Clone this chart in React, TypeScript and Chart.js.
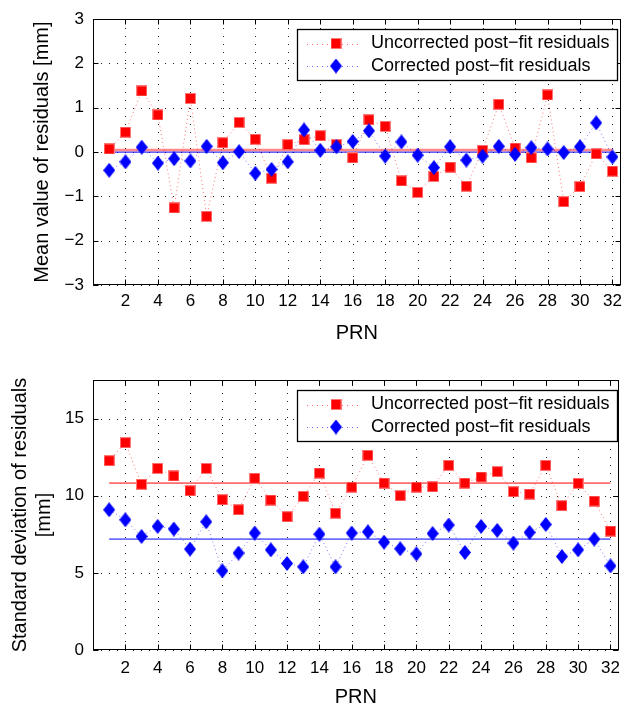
import React, { useEffect, useRef } from 'react';
import { Chart, registerables } from 'chart.js';

Chart.register(...registerables);

// ---------- data ----------
const prn = [1, 2, 3, 4, 5, 6, 7, 8, 9, 10, 11, 12, 13, 14, 15, 16, 17, 18, 19, 20, 21, 22, 23, 24, 25, 26, 27, 28, 29, 30, 31, 32];

const meanUncorrected = [0.07, 0.45, 1.38, 0.84, -1.26, 1.21, -1.45, 0.21, 0.67, 0.29, -0.59, 0.17, 0.28, 0.37, 0.17, -0.13, 0.73, 0.58, -0.65, -0.91, -0.55, -0.34, -0.77, 0.04, 1.08, 0.09, -0.13, 1.29, -1.12, -0.78, -0.04, -0.43];
const meanCorrected = [-0.41, -0.22, 0.11, -0.25, -0.15, -0.2, 0.13, -0.24, 0.01, -0.48, -0.39, -0.22, 0.5, 0.04, 0.12, 0.24, 0.48, -0.09, 0.23, -0.07, -0.35, 0.12, -0.18, -0.09, 0.13, -0.05, 0.1, 0.07, -0.01, 0.12, 0.66, -0.11];

const stdUncorrected = [12.27, 13.44, 10.74, 11.77, 11.28, 10.32, 11.77, 9.74, 9.09, 11.13, 9.72, 8.64, 9.96, 11.47, 8.87, 10.56, 12.62, 10.82, 10.0, 10.56, 10.58, 11.97, 10.82, 11.21, 11.56, 10.26, 10.11, 11.97, 9.35, 10.8, 9.65, 7.71];
const stdCorrected = [9.09, 8.44, 7.36, 8.01, 7.84, 6.54, 8.31, 5.13, 6.28, 7.58, 6.49, 5.61, 5.39, 7.51, 5.39, 7.58, 7.66, 6.99, 6.56, 6.23, 7.55, 8.1, 6.32, 8.01, 7.75, 6.93, 7.62, 8.14, 6.06, 6.49, 7.19, 5.45];

const meanLevelUncorrected = [0.05];
const meanLevelCorrected = [0.0];
const stdLevelUncorrected = [10.82];
const stdLevelCorrected = [7.19];

const xTicks = [2, 4, 6, 8, 10, 12, 14, 16, 18, 20, 22, 24, 26, 28, 30, 32];
const meanYTicks = [-3, -2, -1, 0, 1, 2, 3];
const stdYTicks = [0, 5, 10, 15];

const legendLabels = ['Uncorrected post\u2212fit residuals', 'Corrected post\u2212fit residuals'];
const xTitle = 'PRN';
const meanYTitle = 'Mean value of residuals [mm]';
const stdYTitle = ['Standard deviation of residuals', '[mm]'];

const FONT = "'Liberation Sans', Arial, Helvetica, sans-serif";

function makeSquare(): HTMLCanvasElement {
  const c = document.createElement('canvas');
  c.width = 11;
  c.height = 11;
  const g = c.getContext('2d')!;
  g.fillStyle = 'rgb(255,120,120)';
  g.fillRect(0, 0, 11, 11);
  g.fillStyle = '#ff0000';
  g.fillRect(1, 1, 9, 9);
  return c;
}

function makeDiamond(): HTMLCanvasElement {
  const c = document.createElement('canvas');
  c.width = 12;
  c.height = 15;
  const g = c.getContext('2d')!;
  g.fillStyle = '#0000ff';
  g.beginPath();
  g.moveTo(6, 0);
  g.lineTo(12, 7.5);
  g.lineTo(6, 15);
  g.lineTo(0, 7.5);
  g.closePath();
  g.fill();
  return c;
}

const toXY = (ys: number[]) => ys.map((y, i) => ({ x: prn[i], y }));
const levelLine = (v: number) => [
  { x: prn[0], y: v },
  { x: prn[prn.length - 1], y: v },
];

const fmt = (v: number) => (v < 0 ? '\u2212' + Math.abs(v) : String(v));

function framePlugin(yTicks: number[], square: HTMLCanvasElement, diamond: HTMLCanvasElement) {
  return {
    id: 'frameAndLegend',
    beforeDatasetsDraw(chart: any) {
      const { ctx, chartArea: a, scales } = chart;
      ctx.save();
      ctx.strokeStyle = '#222';
      ctx.lineWidth = 1;
      ctx.setLineDash([1, 7]);
      for (const t of xTicks) {
        const px = Math.round(scales.x.getPixelForValue(t)) + 0.5;
        ctx.beginPath();
        ctx.moveTo(px, a.bottom);
        ctx.lineTo(px, a.top);
        ctx.stroke();
      }
      for (const t of yTicks) {
        const py = Math.round(scales.y.getPixelForValue(t)) + 0.5;
        ctx.beginPath();
        ctx.moveTo(a.left, py);
        ctx.lineTo(a.right, py);
        ctx.stroke();
      }
      ctx.restore();
    },
    afterDatasetsDraw(chart: any) {
      const { ctx, chartArea: a, scales } = chart;
      ctx.save();
      ctx.setLineDash([]);
      ctx.strokeStyle = '#000';
      ctx.lineWidth = 1;
      const L = Math.round(a.left) + 0.5;
      const R = Math.round(a.right) - 0.5;
      const T = Math.round(a.top) + 0.5;
      const B = Math.round(a.bottom) - 0.5;
      ctx.strokeRect(L, T, R - L, B - T);
      // inward tick marks
      ctx.beginPath();
      for (const t of xTicks) {
        const px = Math.round(scales.x.getPixelForValue(t)) + 0.5;
        ctx.moveTo(px, B);
        ctx.lineTo(px, B - 5);
        ctx.moveTo(px, T);
        ctx.lineTo(px, T + 5);
      }
      for (const t of yTicks) {
        const py = Math.round(scales.y.getPixelForValue(t)) + 0.5;
        ctx.moveTo(L, py);
        ctx.lineTo(L + 5, py);
        ctx.moveTo(R, py);
        ctx.lineTo(R - 5, py);
      }
      ctx.stroke();

      // legend
      const bx = 297.5;
      const bw = 320;
      const by = Math.round(a.top) + 10.5;
      const bh = 51;
      ctx.fillStyle = '#fff';
      ctx.fillRect(bx, by, bw, bh);
      ctx.strokeStyle = '#000';
      ctx.lineWidth = 1.3;
      ctx.strokeRect(bx, by, bw, bh);
      const rows = [
        { y: by + 14, color: 'rgba(255,0,0,0.6)', img: square, text: legendLabels[0] },
        { y: by + 36.5, color: 'rgba(0,0,255,0.6)', img: diamond, text: legendLabels[1] },
      ];
      for (const r of rows) {
        ctx.save();
        ctx.strokeStyle = r.color;
        ctx.lineWidth = 1;
        ctx.setLineDash([1, 4]);
        ctx.beginPath();
        ctx.moveTo(307, Math.round(r.y) + 0.5);
        ctx.lineTo(360, Math.round(r.y) + 0.5);
        ctx.stroke();
        ctx.restore();
        ctx.drawImage(r.img, 336 - r.img.width / 2, r.y - r.img.height / 2);
        ctx.fillStyle = '#000';
        ctx.font = `18px ${FONT}`;
        ctx.textAlign = 'left';
        ctx.textBaseline = 'middle';
        ctx.fillText(r.text, 371, r.y);
      }
      ctx.restore();
    },
  };
}

function buildConfig(opts: {
  uncorrected: number[];
  corrected: number[];
  levelU: number;
  levelC: number;
  levelUStyle: { color: string; width: number };
  yMin: number;
  yMax: number;
  yTicks: number[];
  yTitle: string | string[];
  yTitlePad: number;
  padTop: number;
  xHeight: number;
  xTickPad: number;
  xTitlePad: number;
  square: HTMLCanvasElement;
  diamond: HTMLCanvasElement;
}): any {
  return {
    type: 'line',
    data: {
      datasets: [
        {
          label: legendLabels[1],
          data: toXY(opts.corrected),
          borderColor: 'rgba(0,0,255,0.55)',
          borderWidth: 1,
          borderDash: [1, 3],
          pointStyle: opts.diamond,
          pointRadius: 6,
          pointHoverRadius: 6,
          fill: false,
          tension: 0,
          order: 0,
        },
        {
          label: legendLabels[0],
          data: toXY(opts.uncorrected),
          borderColor: 'rgba(255,0,0,0.55)',
          borderWidth: 1,
          borderDash: [1, 3],
          pointStyle: opts.square,
          pointRadius: 6,
          pointHoverRadius: 6,
          fill: false,
          tension: 0,
          order: 1,
        },
        {
          label: 'mean uncorrected',
          data: levelLine(opts.levelU),
          borderColor: opts.levelUStyle.color,
          borderWidth: opts.levelUStyle.width,
          pointRadius: 0,
          fill: false,
          order: 2,
        },
        {
          label: 'mean corrected',
          data: levelLine(opts.levelC),
          borderColor: '#0000ff',
          borderWidth: 1,
          pointRadius: 0,
          fill: false,
          order: 3,
        },
      ],
    },
    options: {
      responsive: false,
      animation: false,
      events: [],
      layout: { padding: { top: opts.padTop, right: 1, left: 0, bottom: 0 } },
      plugins: { legend: { display: false }, tooltip: { enabled: false }, title: { display: false } },
      scales: {
        x: {
          type: 'linear',
          min: 0,
          max: 32.5,
          afterBuildTicks: (s: any) => {
            s.ticks = xTicks.map((v) => ({ value: v }));
          },
          afterFit: (s: any) => {
            s.height = opts.xHeight;
          },
          grid: { display: false, drawTicks: false },
          border: { display: false },
          ticks: {
            padding: opts.xTickPad,
            color: '#000',
            font: { size: 17, family: FONT },
            maxRotation: 0,
            autoSkip: false,
            callback: (v: any) => String(v),
          },
          title: {
            display: true,
            text: xTitle,
            color: '#000',
            font: { size: 20, family: FONT },
            padding: { top: 0, bottom: opts.xTitlePad },
          },
        },
        y: {
          type: 'linear',
          min: opts.yMin,
          max: opts.yMax,
          afterBuildTicks: (s: any) => {
            s.ticks = opts.yTicks.map((v) => ({ value: v }));
          },
          afterFit: (s: any) => {
            s.width = 93;
          },
          grid: { display: false, drawTicks: false },
          border: { display: false },
          ticks: {
            padding: 9,
            color: '#000',
            font: { size: 17, family: FONT },
            autoSkip: false,
            callback: (v: any) => fmt(Number(v)),
          },
          title: {
            display: true,
            text: opts.yTitle,
            color: '#000',
            font: { size: 20, family: FONT },
            padding: { top: opts.yTitlePad, bottom: 0 },
          },
        },
      },
    },
  };
}

export default function App() {
  const topRef = useRef<HTMLCanvasElement | null>(null);
  const botRef = useRef<HTMLCanvasElement | null>(null);

  useEffect(() => {
    Chart.defaults.font.family = FONT;
    Chart.defaults.color = '#000';
    const square = makeSquare();
    const diamond = makeDiamond();

    const top = new Chart(topRef.current!, {
      ...buildConfig({
        uncorrected: meanUncorrected,
        corrected: meanCorrected,
        levelU: meanLevelUncorrected[0],
        levelC: meanLevelCorrected[0],
        levelUStyle: { color: 'rgba(255,40,40,0.55)', width: 2.5 },
        yMin: -3,
        yMax: 3,
        yTicks: meanYTicks,
        yTitle: meanYTitle,
        yTitlePad: 30,
        padTop: 17,
        xHeight: 65,
        xTickPad: 6,
        xTitlePad: 5,
        square,
        diamond,
      }),
      plugins: [framePlugin(meanYTicks, square, diamond)],
    });

    const bot = new Chart(botRef.current!, {
      ...buildConfig({
        uncorrected: stdUncorrected,
        corrected: stdCorrected,
        levelU: stdLevelUncorrected[0],
        levelC: stdLevelCorrected[0],
        levelUStyle: { color: '#ff0000', width: 1 },
        yMin: 0,
        yMax: 17.5,
        yTicks: stdYTicks,
        yTitle: stdYTitle,
        yTitlePad: 8,
        padTop: 30,
        xHeight: 61,
        xTickPad: 8,
        xTitlePad: 2,
        square,
        diamond,
      }),
      plugins: [framePlugin(stdYTicks, square, diamond)],
    });

    return () => {
      top.destroy();
      bot.destroy();
    };
  }, []);

  return (
    <div style={{ position: 'absolute', left: 0, top: 0, width: 628, height: 711, background: '#fff' }}>
      <canvas
        ref={topRef}
        width={628}
        height={350}
        style={{ position: 'absolute', left: 0, top: 0, width: 628, height: 350 }}
      />
      <canvas
        ref={botRef}
        width={628}
        height={361}
        style={{ position: 'absolute', left: 0, top: 350, width: 628, height: 361 }}
      />
    </div>
  );
}
